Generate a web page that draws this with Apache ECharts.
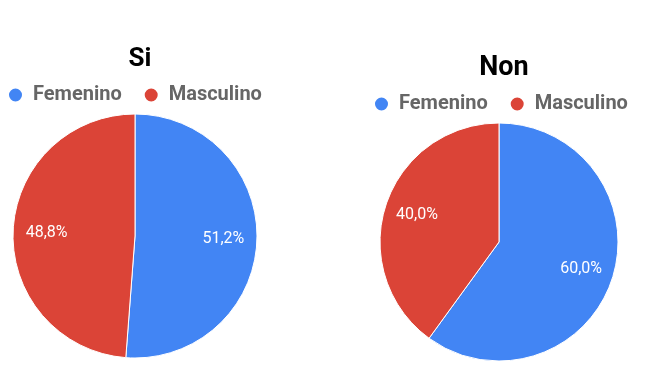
<!DOCTYPE html>
<html>
<head>
<meta charset="utf-8">
<script src="https://cdn.jsdelivr.net/npm/echarts@6/dist/echarts.min.js"></script>
<style>
  html, body { margin: 0; padding: 0; background: #fff; }
  #chart { width: 647px; height: 376px; }
</style>
</head>
<body>
<div id="chart"></div>
<script>
// data
var categories = ['Femenino', 'Masculino'];
var siValues = [51.2, 48.8];
var nonValues = [60.0, 40.0];
var colors = ['#4285F4', '#DB4437'];

function toData(values) {
    return categories.map(function (name, i) {
        return { name: name, value: values[i] };
    });
}

function fmt(p) {
    return p.percent.toFixed(1).replace('.', ',') + '%';
}

var chart = echarts.init(document.getElementById('chart'));

var legendBase = {
    icon: 'circle',
    itemWidth: 15,
    itemHeight: 15,
    itemGap: 21,
    textStyle: {
        fontFamily: 'Roboto',
        fontWeight: 'bold',
        fontSize: 20,
        color: '#666',
        padding: [0, 0, 0, 5]
    },
    data: categories
};

// one visible pie plus a transparent ring on top that places the labels further out
function pies(center, r, values) {
    return [
        {
            type: 'pie',
            center: center,
            radius: [0, r],
            startAngle: 90,
            clockwise: true,
            silent: true,
            label: { show: false },
            labelLine: { show: false },
            itemStyle: { borderColor: '#fff', borderWidth: 1 },
            data: toData(values)
        },
        {
            type: 'pie',
            center: center,
            radius: [r * 0.4, r],
            startAngle: 90,
            clockwise: true,
            silent: true,
            legendHoverLink: false,
            itemStyle: { color: 'rgba(0,0,0,0)' },
            label: {
                show: true,
                position: 'inside',
                formatter: fmt,
                color: '#fff',
                fontFamily: 'Roboto',
                fontSize: 16
            },
            labelLine: { show: false },
            data: toData(values)
        }
    ];
}

var option = {
    color: colors,
    animation: false,
    title: [
        {
            text: 'Si',
            left: 135,
            top: 41,
            textAlign: 'center',
            textStyle: { fontFamily: 'Roboto', fontWeight: 'bold', fontSize: 26, color: '#000' }
        },
        {
            text: 'Non',
            left: 499,
            top: 50,
            textAlign: 'center',
            textStyle: { fontFamily: 'Roboto', fontWeight: 'bold', fontSize: 27, color: '#000' }
        }
    ],
    legend: [
        Object.assign({}, legendBase, { left: 2, top: 80 }),
        Object.assign({}, legendBase, { left: 368, top: 89 })
    ],
    series: pies([135, 236], 122, siValues).concat(pies([499, 242], 119, nonValues))
};

chart.setOption(option);
</script>
</body>
</html>
